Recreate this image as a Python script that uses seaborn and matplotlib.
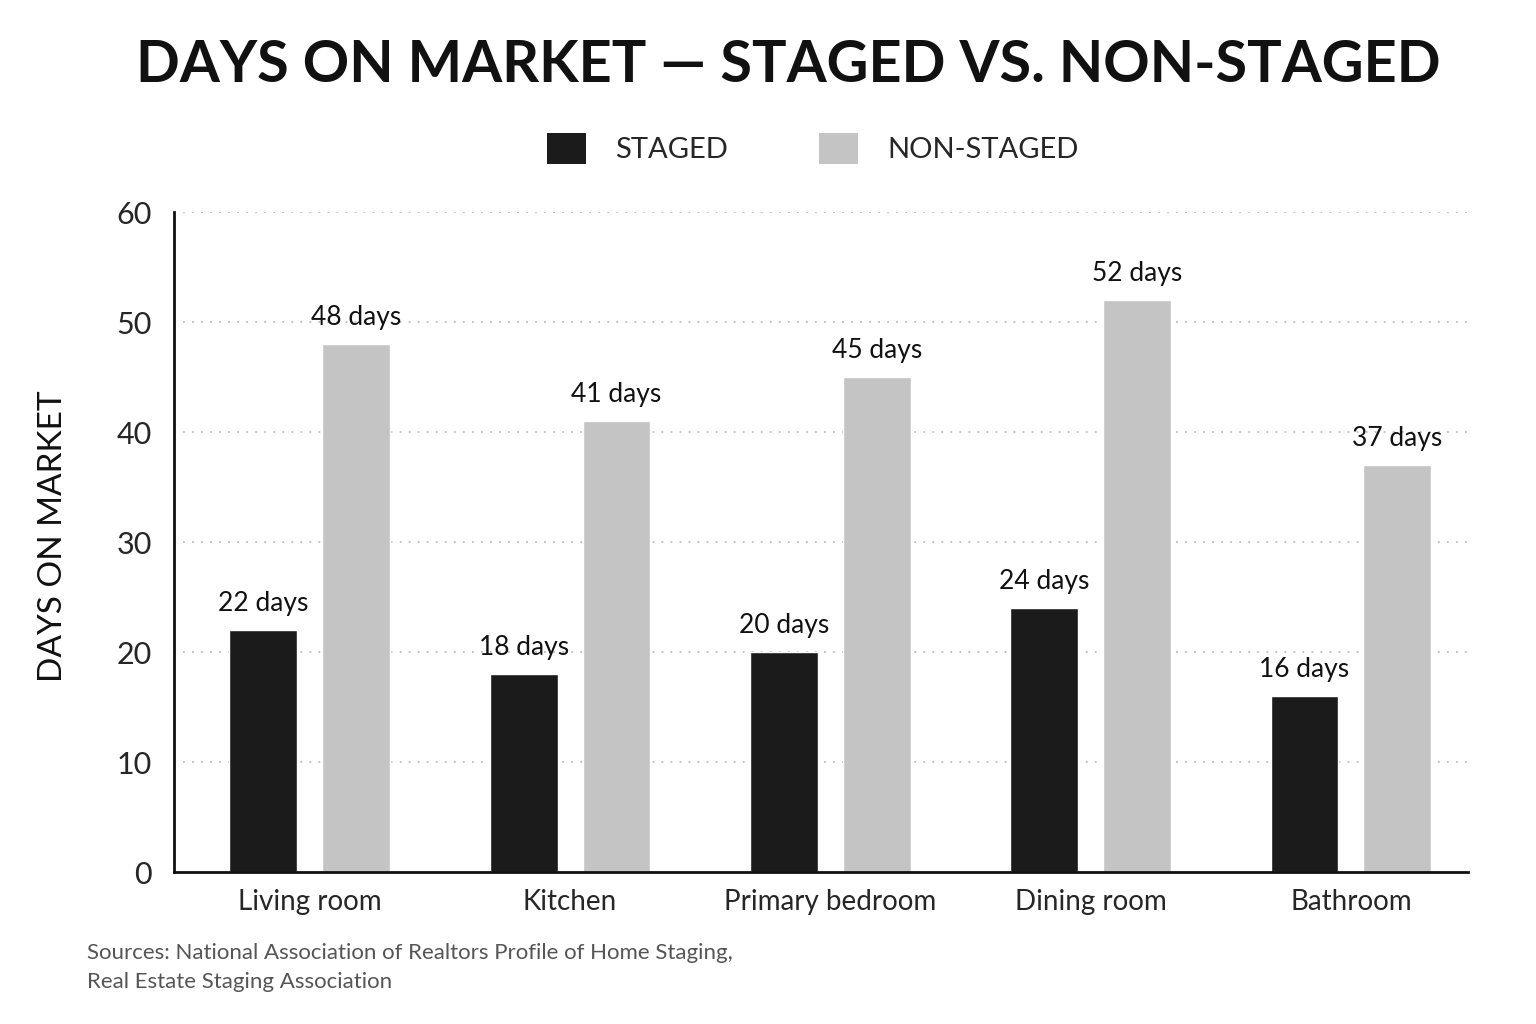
import matplotlib
matplotlib.use("Agg")
import matplotlib.pyplot as plt
import seaborn as sns
import pandas as pd
from matplotlib.patches import Patch

categories = ["Living room", "Kitchen", "Primary bedroom", "Dining room", "Bathroom"]
staged = [22, 18, 20, 24, 16]
non_staged = [48, 41, 45, 52, 37]
series = ["STAGED", "NON-STAGED"]
colors = ["#1b1b1b", "#c4c4c4"]
yticks = [0, 10, 20, 30, 40, 50, 60]

df = pd.DataFrame({
    "Room": categories * 2,
    "Days": staged + non_staged,
    "Group": [series[0]] * len(categories) + [series[1]] * len(categories),
})

sns.set_theme(style="white")
plt.rcParams["font.family"] = ["Lato", "DejaVu Sans"]

fig = plt.figure(figsize=(15.36, 10.24), dpi=100)
fig.patch.set_facecolor("white")
ax = fig.add_axes([174 / 1536, 1 - 872 / 1024, (1468 - 174) / 1536, (872 - 212) / 1024])

sns.barplot(data=df, x="Room", y="Days", hue="Group", hue_order=series,
            palette=colors, width=0.714, gap=0.27, ax=ax, legend=False,
            saturation=1, errorbar=None)

ax.set_ylim(0, 60)
ax.set_xlim(-0.522, 4.45)
ax.set_yticks(yticks)
ax.set_yticklabels([str(t) for t in yticks], fontsize=22)
ax.tick_params(axis="y", length=0, pad=16)
ax.tick_params(axis="x", length=0, pad=12, labelsize=20)
ax.set_xlabel("")
ax.set_ylabel("DAYS ON MARKET", fontsize=24, color="#111111")
ax.yaxis.set_label_coords(-0.082, 0.509)
for t in yticks[1:]:
    ax.axhline(t, color="#bdbdbd", lw=1.3, ls=(0, (1, 4)), zorder=0)
for s in ["top", "right"]:
    ax.spines[s].set_visible(False)
for s in ["left", "bottom"]:
    ax.spines[s].set_color("#111111")
    ax.spines[s].set_linewidth(2)

for cont in ax.containers:
    for bar in cont:
        h = bar.get_height()
        ax.text(bar.get_x() + bar.get_width() / 2, h + 1.3, f"{int(h)} days",
                ha="center", va="bottom", fontsize=19, color="#111111")

fig.text(0.513, 0.9365, "DAYS ON MARKET — STAGED VS. NON-STAGED",
         ha="center", va="center", fontsize=41.5, fontweight="bold", color="#111111")

handles = [Patch(facecolor=c, edgecolor="none") for c in colors]
fig.legend(handles, series, loc="center", bbox_to_anchor=(0.529, 0.855), ncol=2,
           frameon=False, fontsize=21, handlelength=1.35, handleheight=1.3,
           columnspacing=3.1, handletextpad=1.0)

fig.text(87 / 1536, 1 - 953 / 1024, "Sources: National Association of Realtors Profile of Home Staging,",
         ha="left", va="center", fontsize=16, color="#555555")
fig.text(87 / 1536, 1 - 982 / 1024, "Real Estate Staging Association",
         ha="left", va="center", fontsize=16, color="#555555")

fig.savefig("out.png", dpi=100, facecolor="white")
